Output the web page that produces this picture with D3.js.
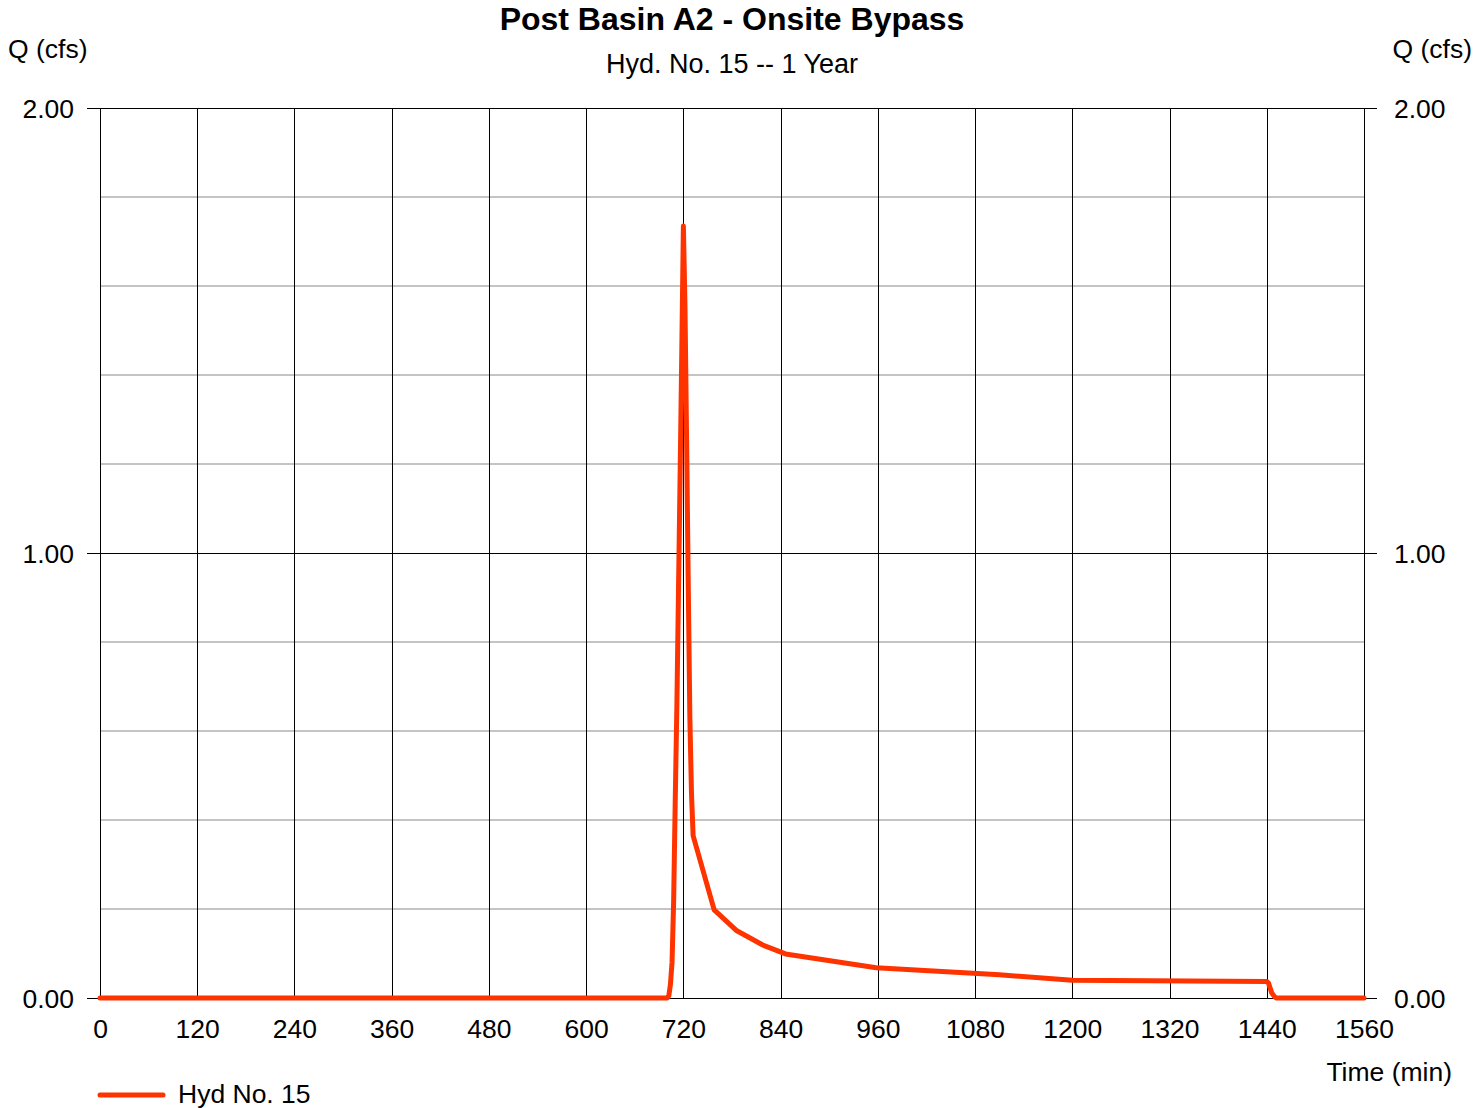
<!DOCTYPE html>
<html>
<head>
<meta charset="utf-8">
<script src="https://cdn.jsdelivr.net/npm/d3@7"></script>
<style>
  html, body { margin: 0; padding: 0; background: #fff; }
  svg { display: block; font-family: "Liberation Sans", Arial, sans-serif; }
</style>
</head>
<body>
<svg id="chart" width="1473" height="1108"></svg>
<script>
// ---- data ----
const title = "Post Basin A2 - Onsite Bypass";
const subtitle = "Hyd. No. 15 -- 1 Year";
const seriesName = "Hyd No. 15";
const timeMin = [0, 700, 702, 704, 706, 708, 710, 712, 714, 716, 718, 720, 722, 724, 726, 728, 730, 732, 758, 786, 818, 846, 958, 1110, 1200, 1440, 1442, 1446, 1450, 1452, 1560];
const flowCfs = [0, 0, 0.005, 0.03, 0.08, 0.22, 0.45, 0.66, 0.92, 1.18, 1.45, 1.735, 1.55, 1.25, 0.93, 0.63, 0.46, 0.365, 0.198, 0.151, 0.119, 0.099, 0.068, 0.052, 0.040, 0.037, 0.034, 0.012, 0.002, 0, 0];
const xTicks = [0, 120, 240, 360, 480, 600, 720, 840, 960, 1080, 1200, 1320, 1440, 1560];
const yMajorTicks = [0, 1, 2];
const yMinorTicks = [0.2, 0.4, 0.6, 0.8, 1.2, 1.4, 1.6, 1.8];

// ---- layout ----
const svg = d3.select("#chart");
const pL = 100, pR = 1364, pT = 108, pB = 998;
const x = d3.scaleLinear().domain([0, 1560]).range([pL, pR]);
const y = d3.scaleLinear().domain([0, 2]).range([pB, pT]);
const FS = 26.5;

// minor horizontal grid
svg.append("g").selectAll("line").data(yMinorTicks).join("line")
  .attr("x1", pL).attr("x2", pR)
  .attr("y1", d => y(d)).attr("y2", d => y(d))
  .attr("stroke", "#c4c4c4").attr("stroke-width", 2);

// vertical grid
svg.append("g").selectAll("line").data(xTicks).join("line")
  .attr("x1", d => Math.round(x(d)) + 0.5).attr("x2", d => Math.round(x(d)) + 0.5)
  .attr("y1", pT).attr("y2", pB)
  .attr("stroke", "#000").attr("stroke-width", 1);

// major horizontal grid with outer ticks
svg.append("g").selectAll("line").data(yMajorTicks).join("line")
  .attr("x1", pL - 13).attr("x2", pR + 13)
  .attr("y1", d => Math.round(y(d)) + 0.5).attr("y2", d => Math.round(y(d)) + 0.5)
  .attr("stroke", "#000").attr("stroke-width", 1);

// left axis labels
const leftAxis = d3.axisLeft(y).tickValues(yMajorTicks).tickFormat(d3.format(".2f")).tickSize(0).tickPadding(26);
const gl = svg.append("g").attr("transform", `translate(${pL},0)`).call(leftAxis);
gl.select(".domain").remove();
gl.selectAll("text").attr("font-size", FS).attr("font-family", "Liberation Sans, Arial, sans-serif").attr("fill", "#000").attr("dy", "0.35em");

const rightAxis = d3.axisRight(y).tickValues(yMajorTicks).tickFormat(d3.format(".2f")).tickSize(0).tickPadding(30);
const gr = svg.append("g").attr("transform", `translate(${pR},0)`).call(rightAxis);
gr.select(".domain").remove();
gr.selectAll("text").attr("font-size", FS).attr("font-family", "Liberation Sans, Arial, sans-serif").attr("fill", "#000").attr("dy", "0.35em");

// bottom axis labels
const bottomAxis = d3.axisBottom(x).tickValues(xTicks).tickFormat(d3.format("d")).tickSize(0).tickPadding(0);
const gb = svg.append("g").attr("transform", `translate(0,${pB})`).call(bottomAxis);
gb.select(".domain").remove();
gb.selectAll("text").attr("font-size", FS).attr("font-family", "Liberation Sans, Arial, sans-serif").attr("fill", "#000").attr("dy", null).attr("y", 39.5);

// series line
const line = d3.line().x((d, i) => x(timeMin[i])).y(d => y(d));
svg.append("path").datum(flowCfs)
  .attr("d", line)
  .attr("fill", "none").attr("stroke", "#ff3300").attr("stroke-width", 5)
  .attr("stroke-linejoin", "round").attr("stroke-linecap", "round");

// titles
svg.append("text").attr("x", (pL + pR) / 2).attr("y", 30).attr("text-anchor", "middle")
  .attr("font-size", 32).attr("font-weight", "bold").text(title);
svg.append("text").attr("x", (pL + pR) / 2).attr("y", 73).attr("text-anchor", "middle")
  .attr("font-size", 27).text(subtitle);
svg.append("text").attr("x", 8).attr("y", 58).attr("font-size", FS).text("Q (cfs)");
svg.append("text").attr("x", 1472).attr("y", 58).attr("text-anchor", "end").attr("font-size", FS).text("Q (cfs)");
svg.append("text").attr("x", 1452).attr("y", 1081).attr("text-anchor", "end").attr("font-size", FS).text("Time (min)");

// legend
svg.append("line").attr("x1", 100).attr("x2", 163).attr("y1", 1095).attr("y2", 1095)
  .attr("stroke", "#ff3300").attr("stroke-width", 5).attr("stroke-linecap", "round");
svg.append("text").attr("x", 178).attr("y", 1103).attr("font-size", FS).text(seriesName);
</script>
</body>
</html>
